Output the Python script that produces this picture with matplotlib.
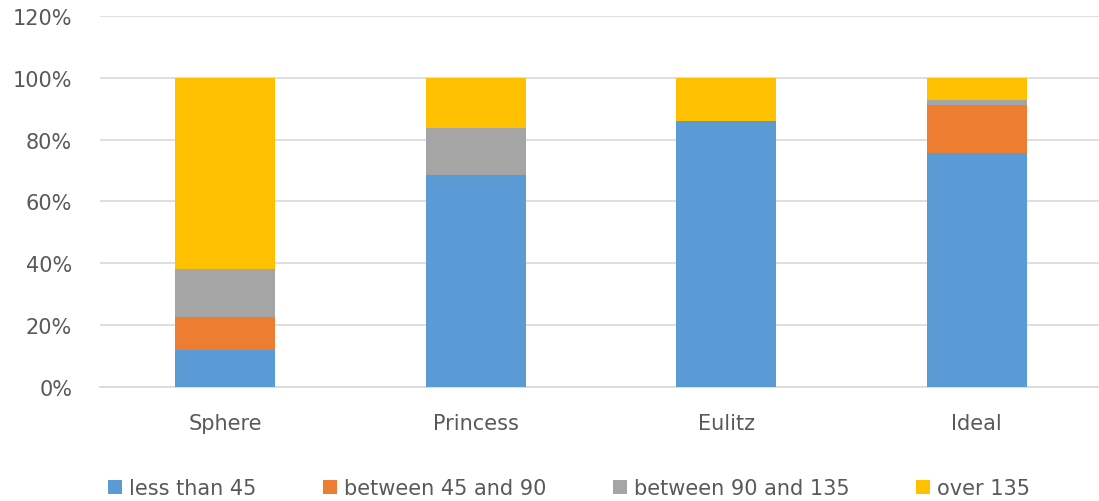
import matplotlib
matplotlib.use('Agg')
import matplotlib.pyplot as plt
from matplotlib.ticker import FuncFormatter, MultipleLocator
import numpy as np

CATEGORIES = ['Sphere', 'Princess', 'Eulitz', 'Ideal']
SERIES_LABELS = ['less than 45', 'between 45 and 90', 'between 90 and 135', 'over 135']
LESS_45 = [11.7, 68.7, 86.1, 75.8]
BETWEEN_45_90 = [10.9, 0.0, 0.0, 15.5]
BETWEEN_90_135 = [15.4, 15.0, 0.0, 1.5]
OVER_135 = [62.0, 16.3, 13.9, 7.2]
SERIES_COLORS = ['#5b9bd5', '#ed7d31', '#a5a5a5', '#ffc000']

TEXT_COLOR = '#595959'
GRID_COLOR = '#d9d9d9'

plt.rcParams['font.family'] = ['DejaVu Sans']

fig = plt.figure(figsize=(10.99, 5.02), dpi=100)
ax = fig.add_axes([100 / 1099, 0.228, 1002 / 1099, 0.7375])

x = np.arange(len(CATEGORIES))
bottom = np.zeros(len(CATEGORIES))
handles = []
for vals, label, color in zip([LESS_45, BETWEEN_45_90, BETWEEN_90_135, OVER_135],
                              SERIES_LABELS, SERIES_COLORS):
    vals = np.asarray(vals, dtype=float)
    bars = ax.bar(x, vals, width=0.4, bottom=bottom, color=color, label=label,
                  zorder=3, linewidth=0)
    handles.append(bars)
    bottom += vals

ax.set_xlim(-0.5, len(CATEGORIES) - 0.5)
ax.set_ylim(0, 120)
ax.yaxis.set_major_locator(MultipleLocator(20))
ax.yaxis.set_major_formatter(FuncFormatter(lambda v, _: f'{v:.0f}%'))
ax.set_xticks(x)
ax.set_xticklabels(CATEGORIES)

ax.grid(axis='y', color=GRID_COLOR, linewidth=1.2, zorder=0)
for side in ['top', 'right', 'left']:
    ax.spines[side].set_visible(False)
ax.spines['bottom'].set_color(GRID_COLOR)
ax.spines['bottom'].set_linewidth(1.2)
ax.tick_params(axis='both', length=0, colors=TEXT_COLOR, labelsize=15)
ax.tick_params(axis='x', pad=19)
ax.tick_params(axis='y', pad=20)

fig.legend(handles=handles, labels=SERIES_LABELS, loc='lower center',
           bbox_to_anchor=(0.518, -0.032), ncol=4, frameon=False,
           fontsize=15, labelcolor=TEXT_COLOR, handlelength=0.65,
           handleheight=0.65, handletextpad=0.35, columnspacing=3.2)

fig.savefig('out.png', dpi=100)
